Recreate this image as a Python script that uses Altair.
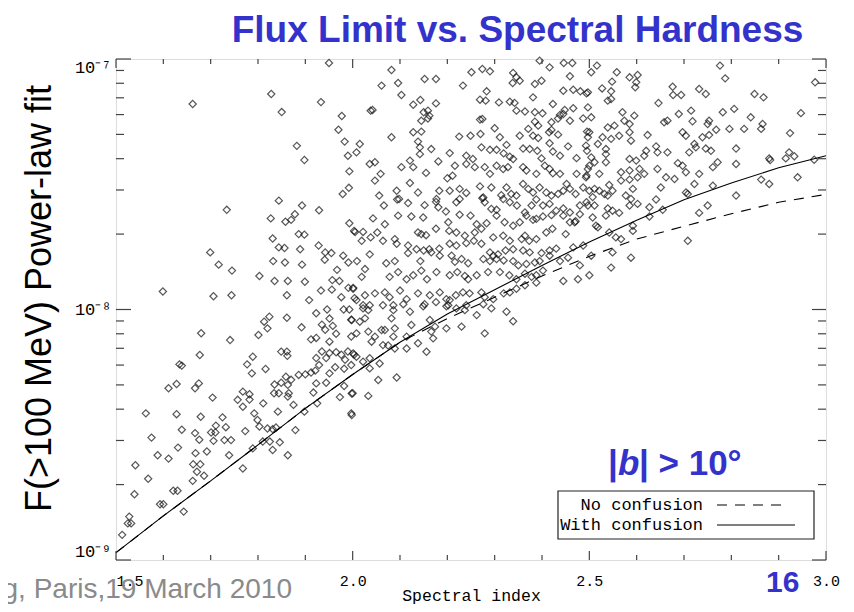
import altair as alt
import pandas as pd

TITLE = "Flux Limit vs. Spectral Hardness"
Y_TITLE = "F(>100 MeV) Power-law fit"
X_TITLE = "Spectral index"
FOOTER = "g, Paris,19 March 2010"
PAGE_NO = "16"
LEGEND_LABELS = ["No confusion", "With confusion"]

# Sources: (spectral index, flux F(>100 MeV) in units of 1e-9 ph cm^-2 s^-1)
src_upper_left = [
    (1.662, 66.1), (1.828, 72.5), (1.850, 61.4), (1.933, 67.3), (1.950, 96.4), (1.977, 59.2),
    (1.970, 52.2), (1.983, 46.8), (1.990, 41.1), (1.993, 35.6), (1.992, 30.6), (1.979, 28.9),
    (1.882, 45.0), (1.898, 39.5), (1.734, 25.0), (1.844, 27.2), (1.893, 26.0), (1.929, 24.9),
    (1.827, 23.1), (1.858, 22.4), (1.878, 24.0), (1.870, 22.8), (1.993, 22.1), (2.003, 20.6),
    (1.831, 19.2), (1.886, 20.0), (1.898, 19.9), (1.844, 17.7), (1.856, 17.6), (1.889, 17.4),
    (1.928, 18.0), (1.942, 16.9), (1.955, 16.8), (1.980, 16.4), (1.699, 16.9), (1.717, 15.1),
    (1.745, 14.3), (1.803, 13.6), (1.832, 15.6), (1.857, 15.4), (1.893, 15.1), (1.941, 15.8),
    (1.991, 15.4), (1.967, 14.4), (1.835, 13.0), (1.863, 13.0), (1.899, 12.9), (1.957, 13.1),
    (1.972, 13.0), (1.599, 11.8), (1.706, 11.3), (1.744, 11.4), (1.861, 11.4), (1.933, 11.9),
    (1.956, 12.0), (1.976, 11.2), (1.991, 12.2), (2.001, 12.2), (1.908, 10.9), (2.004, 11.1),
]

src_lower_left = [
    (1.513, 1.26), (1.528, 1.49), (1.525, 1.40), (1.532, 1.40), (1.539, 1.83), (1.568, 2.11),
    (1.541, 2.39), (1.563, 3.85), (1.575, 3.08), (1.588, 2.62), (1.611, 2.54), (1.593, 1.67),
    (1.600, 1.67), (1.621, 1.89), (1.630, 1.89), (1.643, 1.56), (1.611, 4.85), (1.628, 5.04),
    (1.634, 6.04), (1.639, 5.97), (1.628, 3.82), (1.631, 2.81), (1.639, 3.31), (1.667, 4.85),
    (1.675, 5.07), (1.680, 8.04), (1.677, 6.58), (1.679, 3.73), (1.667, 3.21), (1.676, 3.02),
    (1.668, 2.67), (1.663, 2.41), (1.678, 2.41), (1.671, 2.25), (1.662, 2.07), (1.686, 2.17),
    (1.692, 2.71), (1.704, 4.45), (1.701, 3.23), (1.710, 3.23), (1.711, 3.44), (1.706, 2.99),
    (1.725, 3.71), (1.732, 3.39), (1.729, 3.01), (1.743, 3.01), (1.739, 2.62), (1.741, 7.55),
    (1.768, 2.32), (1.773, 3.27), (1.757, 4.36), (1.768, 4.70), (1.782, 4.59), (1.768, 4.09),
    (1.782, 4.37), (1.789, 6.48), (1.777, 6.04), (1.787, 5.56), (1.801, 7.91), (1.813, 8.94),
    (1.824, 9.36), (1.820, 8.41), (1.816, 5.79), (1.792, 3.85), (1.799, 3.62), (1.789, 2.79),
    (1.811, 4.22), (1.803, 3.41), (1.810, 2.97), (1.820, 3.35), (1.831, 3.33), (1.838, 3.38),
    (1.825, 2.97), (1.831, 2.75), (1.846, 2.95), (1.863, 2.62), (1.879, 3.30), (1.842, 3.91),
    (1.834, 4.63), (1.844, 4.63), (1.835, 5.02), (1.849, 5.10), (1.859, 5.39), (1.870, 5.24),
    (1.863, 5.00), (1.865, 4.63), (1.863, 4.49), (1.875, 4.16), (1.849, 6.79), (1.861, 6.79),
    (1.862, 6.53), (1.886, 5.48), (1.900, 5.51), (1.892, 8.49), (1.861, 9.27), (1.912, 7.60),
    (1.923, 7.70), (1.923, 9.66), (1.935, 8.70), (1.942, 8.30), (1.958, 8.60), (1.946, 10.0),
    (1.981, 10.0), (1.993, 10.0), (1.951, 9.20), (1.997, 9.10), (1.951, 7.44), (1.965, 8.00),
    (1.935, 6.80), (1.951, 6.70), (1.965, 6.75), (1.976, 6.60), (1.990, 6.80), (1.997, 7.80),
    (1.923, 6.40), (1.929, 6.00), (1.944, 6.40), (1.912, 5.60), (1.921, 5.70), (1.951, 5.56),
    (1.963, 5.88), (1.982, 5.80), (1.984, 6.30), (2.003, 6.60), (1.997, 6.00), (1.923, 5.07),
    (1.944, 5.10), (1.917, 4.66), (1.925, 4.22), (1.898, 3.91), (1.973, 4.47), (1.982, 4.95),
    (2.000, 4.63), (1.997, 3.85),
]

src_upper_mid = [
    (2.082, 90.4), (2.251, 88.5), (2.274, 91.2), (2.290, 89.3), (2.339, 88.0), (2.346, 84.5),
    (2.395, 98.5), (2.416, 92.6), (2.446, 96.4), (2.459, 85.3), (2.464, 96.4), (2.061, 78.3),
    (2.096, 80.2), (2.152, 83.2), (2.176, 83.2), (2.233, 78.3), (2.283, 74.3), (2.338, 80.2),
    (2.353, 81.9), (2.385, 79.5), (2.399, 81.9), (2.445, 74.7), (2.466, 75.4), (2.481, 74.3),
    (2.494, 72.9), (2.103, 71.8), (2.128, 65.7), (2.143, 68.6), (2.176, 66.5), (2.269, 68.8),
    (2.281, 68.2), (2.309, 67.1), (2.332, 67.5), (2.342, 66.8), (2.381, 70.3), (2.423, 66.1),
    (2.038, 62.2), (2.042, 62.6), (2.150, 61.3), (2.159, 62.2), (2.162, 59.4), (2.346, 62.2),
    (2.364, 61.7), (2.385, 61.3), (2.401, 60.7), (2.438, 59.8), (2.448, 62.6), (2.459, 56.7),
    (2.466, 63.6), (2.487, 57.9), (2.145, 56.7), (2.159, 57.9), (2.269, 57.3), (2.274, 57.6),
    (2.385, 56.2), (2.392, 54.2), (2.420, 55.9), (2.434, 57.9), (2.445, 60.3), (2.082, 48.7),
    (2.128, 51.0), (2.145, 51.3), (2.138, 46.8), (2.142, 44.4), (2.225, 49.0), (2.249, 49.4),
    (2.270, 50.2), (2.300, 52.9), (2.311, 48.7), (2.325, 45.4), (2.353, 49.4), (2.371, 52.6),
    (2.381, 49.4), (2.392, 48.4), (2.415, 51.0), (2.420, 52.1), (2.434, 49.9), (2.455, 44.8),
    (2.495, 51.3), (2.008, 42.4), (2.015, 45.8), (2.142, 41.7), (2.166, 43.7), (2.205, 42.1),
    (2.240, 41.1), (2.254, 39.9), (2.272, 44.4), (2.290, 43.4), (2.304, 43.4), (2.319, 42.0),
    (2.332, 40.7), (2.360, 43.9), (2.374, 43.7), (2.390, 43.0), (2.399, 40.1), (2.416, 46.1),
    (2.423, 42.7), (2.438, 41.1), (2.473, 40.2), (2.495, 43.0), (2.036, 38.1), (2.047, 38.7),
    (2.059, 34.8), (2.103, 37.0), (2.121, 39.3), (2.128, 37.0), (2.155, 35.1), (2.181, 39.0),
    (2.200, 33.4), (2.216, 37.5), (2.211, 34.2), (2.240, 38.1), (2.258, 37.0), (2.279, 37.0),
    (2.290, 34.8), (2.304, 37.5), (2.318, 36.4), (2.328, 37.0), (2.339, 39.9), (2.360, 37.0),
    (2.367, 35.9), (2.388, 34.8), (2.406, 37.5), (2.416, 36.4), (2.423, 35.0), (2.438, 34.8),
    (2.452, 31.7), (2.473, 34.8), (2.494, 34.2), (2.047, 32.7), (2.093, 29.8), (2.121, 32.0),
    (2.138, 29.3), (2.177, 27.6), (2.183, 29.8), (2.205, 29.8), (2.226, 30.3), (2.240, 29.2),
    (2.269, 31.0), (2.276, 28.0), (2.293, 30.7), (2.314, 28.6), (2.325, 30.7), (2.335, 28.9),
    (2.346, 28.5), (2.360, 31.7), (2.371, 30.3), (2.381, 29.3), (2.395, 30.7), (2.409, 29.3),
    (2.420, 28.5), (2.434, 28.9), (2.445, 29.8), (2.459, 30.3), (2.471, 28.9), (2.487, 30.7),
    (2.056, 28.5), (2.066, 26.0), (2.094, 27.5), (2.098, 27.6), (2.117, 26.6), (2.152, 26.1),
    (2.176, 26.9), (2.181, 25.6), (2.219, 26.8), (2.226, 27.6), (2.274, 27.8), (2.279, 26.8),
    (2.293, 25.2), (2.304, 25.0), (2.318, 27.6), (2.332, 26.8), (2.347, 26.0), (2.364, 24.4),
    (2.378, 26.0), (2.388, 27.5), (2.402, 26.0), (2.416, 26.4), (2.430, 24.8), (2.445, 25.3),
    (2.459, 24.4), (2.480, 26.0), (2.494, 26.8), (2.043, 23.1), (2.068, 21.9), (2.096, 23.7),
    (2.124, 23.5), (2.149, 23.3), (2.197, 24.6), (2.226, 23.9), (2.249, 23.7), (2.262, 21.9),
    (2.283, 22.1), (2.304, 23.7), (2.321, 22.3), (2.339, 21.6), (2.353, 22.3), (2.367, 23.7),
    (2.381, 22.8), (2.388, 23.0), (2.402, 23.5), (2.420, 23.8), (2.445, 23.7), (2.459, 22.3),
    (2.469, 22.3), (2.480, 24.0), (2.005, 20.4), (2.022, 20.4), (2.052, 20.3), (2.089, 19.1),
    (2.138, 20.3), (2.145, 20.0), (2.155, 19.8), (2.176, 21.0), (2.202, 22.3), (2.204, 20.6),
    (2.219, 20.3), (2.237, 19.7), (2.258, 20.3), (2.272, 21.0), (2.297, 19.4), (2.318, 19.7),
    (2.332, 18.8), (2.357, 19.1), (2.364, 19.7), (2.373, 18.8), (2.388, 19.1), (2.409, 20.3),
    (2.422, 21.0), (2.450, 20.0), (2.471, 22.5), (2.019, 18.8), (2.038, 19.4), (2.064, 18.8),
    (2.093, 18.3), (2.117, 18.0), (2.135, 17.4), (2.150, 17.2), (2.162, 17.4), (2.183, 17.5),
    (2.205, 18.3), (2.219, 18.0), (2.240, 18.4), (2.256, 18.8), (2.272, 18.3), (2.290, 16.9),
    (2.297, 16.4), (2.307, 16.6), (2.323, 17.2), (2.339, 17.4), (2.360, 17.2), (2.374, 16.9),
    (2.399, 16.8), (2.416, 17.2), (2.430, 17.5), (2.466, 17.7), (2.487, 18.0), (2.009, 15.6),
    (2.026, 14.5), (2.036, 16.6), (2.071, 15.3), (2.089, 15.6), (2.117, 16.8), (2.143, 15.6),
    (2.166, 16.9), (2.184, 16.4), (2.209, 16.4), (2.216, 15.5), (2.230, 15.9), (2.244, 15.3),
    (2.276, 15.9), (2.290, 15.6), (2.304, 15.9), (2.319, 15.7), (2.339, 15.6), (2.350, 15.0),
    (2.367, 15.2), (2.385, 15.4), (2.395, 15.6), (2.416, 16.4), (2.438, 15.6), (2.455, 16.1),
    (2.480, 15.0), (2.019, 13.5), (2.078, 13.5), (2.096, 14.1), (2.114, 13.2), (2.128, 13.7),
    (2.145, 14.3), (2.157, 13.2), (2.177, 14.1), (2.205, 13.7), (2.221, 14.1), (2.237, 13.6),
    (2.244, 13.2), (2.262, 13.7), (2.286, 14.1), (2.311, 14.1), (2.331, 13.7), (2.346, 13.2),
    (2.364, 13.9), (2.378, 13.5), (2.388, 13.7), (2.402, 14.3), (2.445, 13.0), (2.476, 13.2),
    (2.001, 12.1), (2.026, 11.4), (2.047, 11.6), (2.068, 11.7), (2.078, 11.2), (2.100, 11.9),
    (2.114, 11.0), (2.138, 11.6), (2.163, 11.4), (2.184, 11.7), (2.198, 11.0), (2.205, 10.9),
    (2.218, 11.4), (2.233, 11.7), (2.247, 11.6), (2.272, 11.7), (2.279, 11.2), (2.297, 11.0),
    (2.319, 11.6), (2.332, 11.7), (2.346, 12.1), (2.364, 12.5), (2.388, 12.8), (2.008, 10.9),
    (2.022, 10.4), (2.036, 10.4), (2.064, 10.4), (2.086, 10.4), (2.107, 10.5), (2.152, 10.5),
    (2.176, 10.7), (2.202, 10.4), (2.240, 10.4), (2.276, 10.5),
]

src_lower_mid = [
    (1.998, 9.08), (2.022, 10.1), (2.033, 9.94), (2.015, 8.94), (2.026, 9.22), (2.008, 8.03),
    (2.033, 8.16), (2.040, 7.44), (2.047, 7.79), (2.061, 8.28), (2.068, 8.28), (2.086, 9.94),
    (2.082, 9.22), (2.089, 8.41), (2.086, 7.79), (2.075, 7.18), (2.089, 6.99), (2.114, 6.99),
    (2.121, 9.80), (2.124, 8.67), (2.114, 7.79), (2.138, 7.33), (2.149, 10.3), (2.156, 6.78),
    (2.163, 9.08), (2.166, 8.16), (2.170, 7.67), (2.174, 8.54), (2.198, 10.3), (2.198, 8.41),
    (2.219, 10.1), (2.230, 8.54), (2.237, 9.94), (2.262, 9.50), (2.279, 8.03), (2.293, 10.1),
    (2.325, 9.80), (2.339, 8.98), (2.001, 6.68), (2.008, 6.48), (2.022, 6.19), (2.036, 6.39),
    (2.036, 5.82), (2.057, 6.09), (2.054, 5.23), (2.093, 5.35), (1.998, 4.62), (2.033, 4.52),
    (1.998, 3.79), (2.064, 7.21),
]

src_right = [
    (2.504, 88.5), (2.516, 94.1), (2.558, 88.5), (2.585, 84.5), (2.602, 86.3), (2.599, 80.7),
    (2.597, 77.1), (2.548, 81.2), (2.527, 76.3), (2.546, 74.3), (2.497, 73.6), (2.539, 68.2),
    (2.546, 69.2), (2.497, 64.1), (2.504, 58.5), (2.570, 61.3), (2.595, 59.4), (2.574, 56.7),
    (2.585, 55.0), (2.539, 53.3), (2.553, 54.2), (2.500, 51.0), (2.497, 48.7), (2.528, 48.7),
    (2.546, 48.0), (2.563, 49.4), (2.585, 51.0), (2.588, 47.2), (2.623, 49.7), (2.493, 45.1),
    (2.518, 45.8), (2.535, 43.7), (2.535, 41.7), (2.504, 40.5), (2.511, 38.7), (2.535, 38.7),
    (2.497, 36.4), (2.500, 37.5), (2.521, 34.8), (2.493, 33.7), (2.567, 35.3), (2.585, 39.9),
    (2.599, 39.3), (2.585, 35.9), (2.602, 33.7), (2.606, 36.4), (2.616, 41.1), (2.620, 43.0),
    (2.616, 34.8), (2.567, 32.7), (2.585, 33.0), (2.542, 31.4), (2.549, 29.8), (2.500, 29.8),
    (2.511, 30.3), (2.521, 29.8), (2.532, 28.9), (2.539, 28.5), (2.497, 26.0), (2.507, 28.1),
    (2.511, 26.0), (2.577, 28.5), (2.588, 27.6), (2.585, 26.0), (2.602, 26.4), (2.592, 30.3),
    (2.539, 25.3), (2.549, 24.8), (2.563, 24.3), (2.535, 23.7), (2.507, 23.3), (2.514, 21.6),
    (2.518, 21.3), (2.542, 20.3), (2.556, 19.4), (2.567, 19.1), (2.592, 21.6), (2.592, 20.6),
    (2.549, 16.9), (2.588, 16.1), (2.546, 14.7), (2.504, 16.4), (2.500, 13.7), (2.646, 66.7),
    (2.676, 77.5), (2.694, 71.8), (2.677, 71.8), (2.732, 75.9), (2.746, 72.5), (2.715, 62.2),
    (2.689, 60.3), (2.665, 56.7), (2.658, 55.9), (2.641, 44.8), (2.644, 42.4), (2.665, 42.4),
    (2.644, 36.4), (2.662, 33.7), (2.680, 33.2), (2.651, 30.7), (2.641, 27.5), (2.627, 25.6),
    (2.627, 23.5), (2.655, 25.0), (2.687, 38.4), (2.697, 37.5), (2.704, 35.3), (2.697, 51.0),
    (2.704, 49.4), (2.718, 56.4), (2.722, 45.8), (2.725, 44.4), (2.711, 42.4), (2.739, 48.7),
    (2.746, 43.9), (2.753, 49.7), (2.750, 55.0), (2.753, 56.7), (2.768, 52.2), (2.757, 43.0),
    (2.761, 37.0), (2.771, 38.7), (2.732, 34.8), (2.722, 31.7), (2.704, 29.3), (2.708, 28.9),
    (2.761, 31.2), (2.750, 26.0), (2.732, 24.3), (2.708, 18.8), (2.776, 94.1), (2.787, 83.7),
    (2.782, 61.3), (2.806, 63.2), (2.796, 52.6), (2.810, 43.9), (2.810, 38.1), (2.827, 52.6),
    (2.841, 58.5), (2.849, 72.5), (2.868, 70.3), (2.866, 55.0), (2.863, 52.6), (2.810, 28.5),
    (2.863, 33.0), (2.880, 31.7), (2.880, 40.1), (2.882, 39.5), (2.915, 40.1), (2.922, 42.4),
    (2.933, 40.9), (2.924, 50.6), (2.947, 60.8), (2.940, 33.7), (2.975, 39.6), (2.977, 80.7),
]

# Flux-limit curves (flux in units of 1e-9)
curve_index = [1.5, 1.6, 1.7, 1.8, 1.9, 2.0, 2.1, 2.2, 2.3, 2.4, 2.5, 2.6, 2.7, 2.8, 2.9, 3.0]
flux_with_confusion = [1.07, 1.50, 2.07, 2.88, 4.03, 5.5, 7.4, 9.6, 12.0, 15.0, 18.6, 22.7, 27.4, 32.0, 36.8, 41.1]
flux_no_confusion = [1.07, 1.50, 2.07, 2.88, 4.03, 5.5, 7.4, 9.2, 11.2, 13.6, 16.3, 19.1, 21.5, 24.1, 26.8, 28.8]

# Tick positions
x_major_ticks = [1.5, 2.0, 2.5, 3.0]
x_minor_ticks = [1.6, 1.7, 1.8, 1.9, 2.1, 2.2, 2.3, 2.4, 2.6, 2.7, 2.8, 2.9]
y_major_ticks = [1e-9, 1e-8, 1e-7]
y_minor_ticks = [2e-9, 3e-9, 4e-9, 5e-9, 6e-9, 7e-9, 8e-9, 9e-9,
                 2e-8, 3e-8, 4e-8, 5e-8, 6e-8, 7e-8, 8e-8, 9e-8]

UNIT = 1e-9
all_src = src_upper_left + src_lower_left + src_upper_mid + src_lower_mid + src_right
df_src = pd.DataFrame({"x": [p[0] for p in all_src], "y": [p[1] * UNIT for p in all_src]})
df_solid = pd.DataFrame({"x": curve_index, "y": [v * UNIT for v in flux_with_confusion]})
df_dash = pd.DataFrame({"x": curve_index, "y": [v * UNIT for v in flux_no_confusion]})
df_xmaj = pd.DataFrame({"x": x_major_ticks})
df_xmin = pd.DataFrame({"x": x_minor_ticks})
df_ymaj = pd.DataFrame({"y": y_major_ticks})
df_ymin = pd.DataFrame({"y": y_minor_ticks})

W, H = 710, 501
BLUE = "#3333CC"
SERIF = "Liberation Mono"
SANS = "Liberation Sans"
FRAME = "#444444"

xscale = alt.Scale(domain=[1.5, 3.0], nice=False, zero=False)
yscale = alt.Scale(type="log", domain=[1e-9, 1e-7], nice=False)

xaxis = alt.Axis(values=x_major_ticks, format=".1f", labelFont=SERIF, labelFontSize=15,
                 labelColor="black", ticks=False, domain=False, grid=False, labelPadding=13,
                 labelFlush=False,
                 labelAlign={"condition": {"test": "datum.value < 1.6", "value": "left"},
                             "value": "center"},
                 title=X_TITLE, titleFont=SERIF, titleFontSize=16.5, titleFontWeight="normal",
                 titleColor="black", titleY=40, titleBaseline="alphabetic")
yaxis = alt.Axis(values=y_major_ticks,
                 labelExpr="datum.value < 5e-9 ? '10\u207b\u2079' : (datum.value < 5e-8 ? '10\u207b\u2078' : '10\u207b\u2077')",
                 labelFont=SERIF, labelFontSize=17, labelColor="black", labelPadding=5,
                 labelFlush=True, ticks=False, domain=False, grid=False,
                 title=Y_TITLE, titleFont=SANS, titleFontSize=36, titleFontWeight="normal",
                 titleColor="black", titleAngle=270, titleX=-66, titleY=239,
                 titleAlign="center", titleBaseline="alphabetic")

X = alt.X("x:Q", scale=xscale, axis=xaxis)
Y = alt.Y("y:Q", scale=yscale, axis=yaxis)

points = alt.Chart(df_src).mark_point(shape="diamond", filled=False, size=52,
                                      strokeWidth=1.2, color="#111111").encode(x=X, y=Y)
solid = alt.Chart(df_solid).mark_line(color="black", strokeWidth=1.1).encode(x=X, y=Y)
dashed = alt.Chart(df_dash).mark_line(color="black", strokeWidth=1.1,
                                      strokeDash=[10, 8]).encode(x=X, y=Y)

tick_kw = dict(color=FRAME, strokeWidth=1.2)
xt_bot_maj = alt.Chart(df_xmaj).mark_rule(**tick_kw).encode(x=X, y=alt.value(H), y2=alt.value(H - 9))
xt_bot_min = alt.Chart(df_xmin).mark_rule(**tick_kw).encode(x=X, y=alt.value(H), y2=alt.value(H - 5))
xt_top_maj = alt.Chart(df_xmaj).mark_rule(**tick_kw).encode(x=X, y=alt.value(0), y2=alt.value(9))
xt_top_min = alt.Chart(df_xmin).mark_rule(**tick_kw).encode(x=X, y=alt.value(0), y2=alt.value(5))
yt_l_maj = alt.Chart(df_ymaj).mark_rule(**tick_kw).encode(y=Y, x=alt.value(0), x2=alt.value(15))
yt_l_min = alt.Chart(df_ymin).mark_rule(**tick_kw).encode(y=Y, x=alt.value(0), x2=alt.value(8))
yt_r_maj = alt.Chart(df_ymaj).mark_rule(**tick_kw).encode(y=Y, x=alt.value(W), x2=alt.value(W - 14))
yt_r_min = alt.Chart(df_ymin).mark_rule(**tick_kw).encode(y=Y, x=alt.value(W), x2=alt.value(W - 8))

one = pd.DataFrame({"k": [0]})


def label(text, x, y, size, color="black", font=SANS, weight="normal", style="normal",
          align="left"):
    return alt.Chart(one).mark_text(text=text, font=font, fontSize=size, fontWeight=weight,
                                    fontStyle=style, color=color, align=align,
                                    baseline="alphabetic").encode(x=alt.value(x), y=alt.value(y))


title = label(TITLE, 401.5, -17, 37, color=BLUE, weight="bold", align="center")
b1 = label("|", 492, 416, 35, color=BLUE, weight="bold")
b2 = label("b", 502, 416, 35, color=BLUE, weight="bold", style="italic")
b3 = label("| > 10\u00b0", 523, 416, 35, color=BLUE, weight="bold")
footer = label(FOOTER, 176, 539, 28, color="#8a8a8a", align="right")
page = label(PAGE_NO, 650, 533, 30, color=BLUE, weight="bold")

legend_box = alt.Chart(one).mark_rect(fill="white", stroke="#222222", strokeWidth=1.2).encode(
    x=alt.value(442), x2=alt.value(698), y=alt.value(432), y2=alt.value(480))
leg_t1 = label(LEGEND_LABELS[0], 587, 451, 17, font=SERIF, align="right")
leg_t2 = label(LEGEND_LABELS[1], 587, 471, 17, font=SERIF, align="right")
leg_l1 = alt.Chart(one).mark_rule(color="black", strokeWidth=1.1, strokeDash=[10, 8]).encode(
    x=alt.value(601), x2=alt.value(672), y=alt.value(446))
leg_l2 = alt.Chart(one).mark_rule(color="black", strokeWidth=1.1).encode(
    x=alt.value(601), x2=alt.value(679), y=alt.value(466))

chart = alt.layer(
    points, dashed, solid,
    xt_bot_maj, xt_bot_min, xt_top_maj, xt_top_min,
    yt_l_maj, yt_l_min, yt_r_maj, yt_r_min,
    legend_box, leg_t1, leg_t2, leg_l1, leg_l2,
    title, b1, b2, b3, footer, page,
).properties(
    width=W, height=H,
    padding={"left": 108, "top": 51, "right": 20, "bottom": 44},
    autosize=alt.AutoSizeParams(type="none"),
).configure_view(stroke=FRAME, strokeWidth=1.3).configure(background="white")

chart.save("out.html", embed_options={"renderer": "svg", "actions": False})
